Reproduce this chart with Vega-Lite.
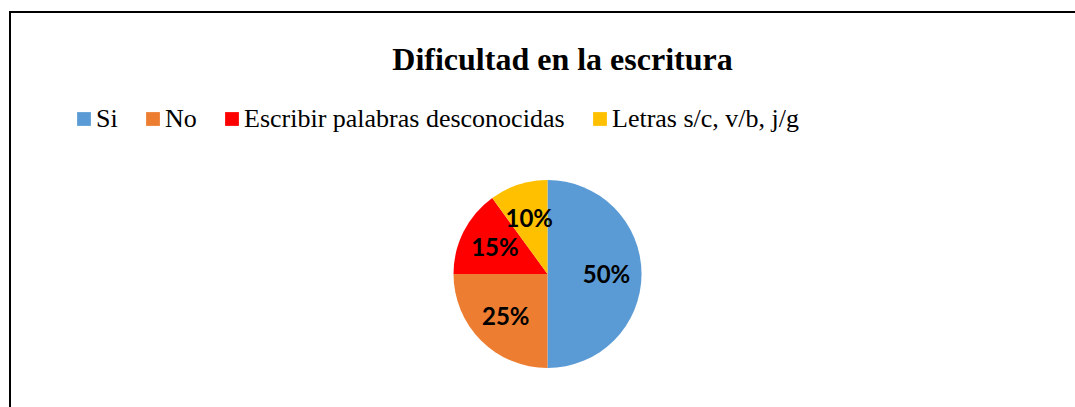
{
  "$schema": "https://vega.github.io/schema/vega-lite/v6.json",
  "padding": {"left": 8, "top": 10, "right": 0, "bottom": 0},
  "background": "white",
  "spacing": 0,
  "hconcat": [
    {
      "width": 1075,
      "height": 524,
      "view": {"stroke": "black", "strokeWidth": 2, "fill": "white", "strokeDash": [1075, 1599, 524], "strokeCap": "square"},
      "title": {
        "text": "Dificultad en la escritura",
        "font": "Liberation Serif",
        "fontSize": 32,
        "fontWeight": "bold",
        "color": "black",
        "anchor": "middle",
        "baseline": "alphabetic",
        "offset": -90,
        "dx": 15
      },
      "data": {
        "values": [
          {"idx": 1, "categoria": "Si", "valor": 50, "etiqueta": "50%"},
          {"idx": 2, "categoria": "No", "valor": 25, "etiqueta": "25%"},
          {"idx": 3, "categoria": "Escribir palabras desconocidas", "valor": 15, "etiqueta": "15%"},
          {"idx": 4, "categoria": "Letras s/c, v/b, j/g", "valor": 10, "etiqueta": "10%"}
        ]
      },
      "encoding": {
        "theta": {"field": "valor", "type": "quantitative", "stack": true},
        "order": {"field": "idx", "type": "quantitative"}
      },
      "layer": [
        {
          "mark": {"type": "arc", "outerRadius": 94},
          "encoding": {
            "color": {
              "field": "categoria",
              "type": "nominal",
              "scale": {
                "domain": ["Si", "No", "Escribir palabras desconocidas", "Letras s/c, v/b, j/g"],
                "range": ["#5B9BD5", "#ED7D31", "#FF0000", "#FFC000"]
              },
              "legend": {
                "orient": "none",
                "legendX": 61,
                "legendY": 94,
                "direction": "horizontal",
                "columns": 4,
                "title": null,
                "symbolType": "square",
                "symbolSize": 190,
                "symbolStrokeWidth": 0,
                "labelFont": "Liberation Serif",
                "labelFontSize": 26,
                "labelColor": "black",
                "labelOffset": -1,
                "columnPadding": 22,
                "padding": 0,
                "labelLimit": 0
              }
            }
          }
        },
        {
          "mark": {"type": "text", "radius": 59, "dy": 2, "font": "Lato", "fontWeight": "bold", "fontSize": 24, "color": "black"},
          "encoding": {"text": {"field": "etiqueta", "type": "nominal"}}
        }
      ]
    }
  ]
}
